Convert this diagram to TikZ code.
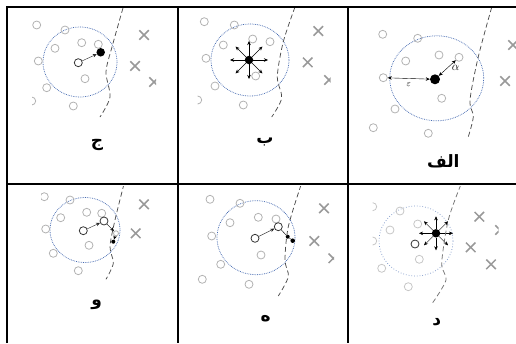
\documentclass[tikz,border=0pt]{standalone}
\usepackage{fontspec}
\newfontfamily\arabicfont[Script=Arabic]{DejaVu Sans}
\TeXXeTstate=1
\usetikzlibrary{arrows.meta, calc, positioning, shapes.misc}
\definecolor{regionblue}{RGB}{72,108,178}

\begin{document}
\begin{tikzpicture}[x=1pt, y=-1pt, >={Stealth[length=4pt, width=3.5pt]},
    pt/.style={circle, draw=gray!60, line width=0.8pt, minimum size=8pt, inner sep=0pt},
    darkpt/.style={pt, draw=gray!40!black},
    seed/.style={circle, fill=black, minimum size=8.5pt, inner sep=0pt},
    xmark/.style={cross out, draw=gray!80, line width=1.5pt, minimum size=8pt, inner sep=0pt},
    region/.style={draw=regionblue, densely dotted, line width=0.75pt},
    border/.style={draw=black!70, dash pattern=on 5pt off 3pt, line width=0.75pt},
    lbl/.style={font=\arabicfont\bfseries\fontsize{17}{19}\selectfont}]
    \useasboundingbox (0,0) rectangle (516,343);

    % table lines
    \draw[line width=1.3pt] (7,343) -- (7,7) -- (516,7);
    \draw[line width=1.3pt] (7,184) -- (516,184);
    \draw[line width=1.3pt] (178,7) -- (178,343);
    \draw[line width=1.3pt] (348,7) -- (348,343);

    % panel c
    \begin{scope}
        \clip (32,8) rectangle (156,182);
        \draw[region] (80,62) ellipse (37 and 35);
        \foreach \p in {(36.7,25),(65,30),(81.7,42.7),(98.3,44.3),(55,48.3),(38.3,61),(85,78.7),(46.7,87.7),(31.7,101),(73.3,106)}
            \node[pt] at \p {};
        \node[darkpt] (c1) at (78.3,62.7) {};
        \node[seed] (c0) at (100.7,52.3) {};
        \draw[->, gray!30!black, thin] (c1) -- (c0);
        \draw[border] plot[smooth] coordinates {(123,8) (112,47) (106,72) (110,97) (100,117)};
        \node[xmark] (cx1) at (144,35) {};
        \node[xmark] (cx2) at (135,66) {};
        \node[xmark] (cx3) at (154,82) {};
    \end{scope}
    \node[lbl] (lc) at (97,145) {\beginR ج\endR};

    % panel b
    \begin{scope}
        \clip (197.5,8) rectangle (330.5,182);
        \draw[region] (250,60) ellipse (39 and 36);
        \foreach \p in {(204.3,21.7),(234.3,25),(223.3,45),(252.7,39),(270,41.7),(206,58.3),(255.7,76),(215,86),(197.7,100),(243.3,105)}
            \node[pt] at \p {};
        \node[seed] (bs) at (249,60) {};
        \foreach \a in {0,45,...,315} {
            \coordinate (bt\a) at ($(bs)+(\a:19)$);
            \draw[->, thin] (bs) -- (bt\a);
        }
        \draw[border] plot[smooth] coordinates {(295,7) (283.3,41.7) (277.3,76.7) (281.7,98) (271.7,117)};
        \node[xmark] (bx1) at (318.3,31) {};
        \node[xmark] (bx2) at (307.7,62.3) {};
        \node[xmark] (bx3) at (329,80) {};
    \end{scope}
    \node[lbl] (lb) at (265,142) {\beginR ب\endR};

    % panel a
    \begin{scope}
        \clip (355,8) rectangle (516,182);
        \draw[region] (436.7,78.3) ellipse (47 and 42.5);
        \foreach \p in {(382.7,34.3),(417.7,38.3),(405.7,61),(439,55),(395,109),(441.7,98.3),(373.3,127.7),(428.3,133.3)}
            \node[pt] at \p {};
        \node[pt] (a1) at (383.3,77.7) {};
        \node[pt] (a2) at (459,57.3) {};
        \node[seed, minimum size=10pt] (a0) at (435,79.3) {};
        \draw[<->, thin] (a1) -- node[below=1pt, font=\small] {$\varepsilon$} (a0);
        \draw[<->, thin] (a0) -- node[right=1pt, font=\large] {$\alpha$} (a2);
        \draw[border] plot[smooth] coordinates {(491.7,7.3) (478.3,56.7) (470,100) (473.3,116.7) (468.3,136.7)};
        \node[xmark] (ax1) at (513,45) {};
        \node[xmark] (ax2) at (505,81) {};
    \end{scope}
    \node[lbl] (la) at (443.3,161) {\beginR الف\endR};

    % panel f
    \begin{scope}
        \clip (41,186) rectangle (176,342);
        \draw[region] (85,230) ellipse (35 and 32.5);
        \foreach \p in {(44.3,196.7),(70,200),(86.7,212.3),(101.7,213.3),(60.7,217.7),(45.7,229),(89,245.3),(53.3,253.3),(78.3,270.7)}
            \node[pt] at \p {};
        \node[darkpt] (f1) at (83.3,230.7) {};
        \node[darkpt] (f2) at (104,221) {};
        \node[pt, minimum size=5pt] (f3) at (116,233.3) {};
        \node[seed, minimum size=4pt] (f0) at (113.3,241.7) {};
        \draw[->, gray!30!black, thin] (f1) -- (f2);
        \draw[->, thin] (f2) -- (f3);
        \draw[->, thin] (f3) -- (f0);
        \draw[border] plot[smooth] coordinates {(124,184) (115,220) (110,246.7) (113.3,263.3) (106,279.3)};
        \node[xmark] (fx1) at (144,204.3) {};
        \node[xmark] (fx2) at (135.7,233.3) {};
    \end{scope}
    \node[lbl] (lf) at (96.7,305) {\beginR و\endR};

    % panel e
    \begin{scope}
        \clip (190,186) rectangle (334,342);
        \draw[region] (256,237.7) ellipse (39 and 37);
        \foreach \p in {(210,199.3),(240,203.3),(258.3,217.3),(276,219),(230,222.7),(211.7,236),(261,255),(220.7,264.3),(202.3,279.3),(249,284.3)}
            \node[pt] at \p {};
        \node[darkpt] (e1) at (255,238.3) {};
        \node[darkpt] (e2) at (278.3,226.7) {};
        \node[seed, minimum size=4pt] (e3) at (287.7,236.7) {};
        \node[seed, minimum size=4.5pt] (e0) at (292.7,240.7) {};
        \draw[->, gray!30!black, thin] (e1) -- (e2);
        \draw[thin] (e2) -- (e3) -- (e0);
        \draw[border] plot[smooth] coordinates {(301,185) (288.3,226.7) (285,260) (288.3,276.7) (278.3,296)};
        \node[xmark] (ex1) at (324,208.3) {};
        \node[xmark] (ex2) at (314.3,241) {};
        \node[xmark] (ex3) at (333.3,258.3) {};
    \end{scope}
    \node[lbl] (le) at (265.7,319) {\beginR ه\endR};

    % panel d
    \begin{scope}
        \clip (372.5,186) rectangle (498.5,342);
        \draw[region, draw=regionblue!70, dotted] (416,241) ellipse (37 and 35);
        \foreach \p in {(372.7,206.7),(400,211),(417.7,224),(390,230),(372.7,241),(419.3,259.3),(381.7,268.3),(408.3,286.7)}
            \node[pt, draw=gray!45] at \p {};
        \node[darkpt] (d1) at (415,244) {};
        \node[seed] (ds) at (436,233.3) {};
        \foreach \a in {0,45,...,315} {
            \coordinate (dt\a) at ($(ds)+(\a:17)$);
            \draw[->, thin] (ds) -- (dt\a);
        }
        \draw[border, draw=black!55] plot[smooth] coordinates {(460.7,185) (448.3,220) (441.7,263.3) (446,280) (432.7,302.7)};
        \node[xmark] (dx1) at (479.3,216.7) {};
        \node[xmark] (dx2) at (470.7,247.3) {};
        \node[xmark] (dx3) at (491,264.3) {};
        \node[xmark] (dx4) at (500,230) {};
    \end{scope}
    \node[lbl] (ld) at (436.7,322) {\beginR د\endR};
\end{tikzpicture}
\end{document}
